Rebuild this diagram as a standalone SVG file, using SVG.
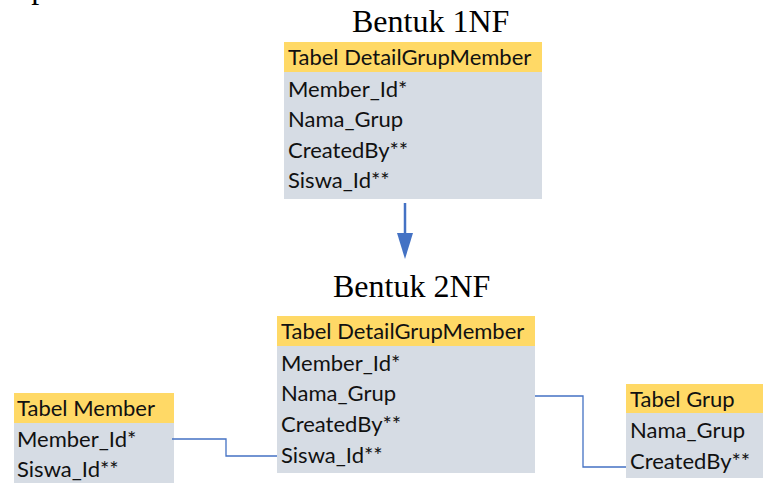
<svg xmlns="http://www.w3.org/2000/svg" width="763" height="483" viewBox="0 0 763 483">
  <style>
    .title { font-family: "Liberation Serif", "Times New Roman", serif; font-size: 32px; fill: #000; }
    .hd { fill: #FFD966; }
    .bd { fill: #D6DCE4; }
    .lbl { font-family: Lato, "Liberation Sans", sans-serif; font-size: 22px; fill: #111; }
    .link { fill: none; stroke: #4472C4; stroke-width: 1.3; }
    .arrow { stroke: #4472C4; stroke-width: 2.5; }
  </style>
  <rect width="763" height="483" fill="#fff"/>

  <!-- paragraph line above the figure, mostly above the top edge -->
  <text class="title" x="-7" y="-2">an pada Gambar 3.5.</text>

  <text class="title" x="352" y="32">Bentuk 1NF</text>
  <text class="title" x="333" y="297">Bentuk 2NF</text>

  <!-- 1NF table -->
  <g id="tbl-1nf">
    <rect class="bd" x="284" y="72" width="258" height="127"/>
    <rect class="hd" x="284" y="42" width="258" height="30"/>
    <text class="lbl" x="288" y="65">Tabel DetailGrupMember</text>
    <text class="lbl" x="288" y="97">Member_Id*</text>
    <text class="lbl" x="288" y="127">Nama_Grup</text>
    <text class="lbl" x="288" y="158">CreatedBy**</text>
    <text class="lbl" x="288" y="188">Siswa_Id**</text>
  </g>

  <!-- 2NF main table -->
  <g id="tbl-2nf">
    <rect class="bd" x="277" y="346" width="258" height="127"/>
    <rect class="hd" x="277" y="316" width="258" height="30"/>
    <text class="lbl" x="281" y="339">Tabel DetailGrupMember</text>
    <text class="lbl" x="281" y="371">Member_Id*</text>
    <text class="lbl" x="281" y="401">Nama_Grup</text>
    <text class="lbl" x="281" y="432">CreatedBy**</text>
    <text class="lbl" x="281" y="463">Siswa_Id**</text>
  </g>

  <!-- Member table -->
  <g id="tbl-member">
    <rect class="bd" x="14" y="423" width="160" height="60"/>
    <rect class="hd" x="14" y="393" width="160" height="30"/>
    <text class="lbl" x="17" y="416">Tabel Member</text>
    <text class="lbl" x="17" y="447">Member_Id*</text>
    <text class="lbl" x="17" y="477">Siswa_Id**</text>
  </g>

  <!-- Grup table -->
  <g id="tbl-grup">
    <rect class="bd" x="626" y="413" width="137" height="65"/>
    <rect class="hd" x="626" y="384" width="137" height="29"/>
    <text class="lbl" x="630" y="407">Tabel Grup</text>
    <text class="lbl" x="630" y="438">Nama_Grup</text>
    <text class="lbl" x="630" y="469">CreatedBy**</text>
  </g>

  <g id="connectors">
    <line class="arrow" x1="405" y1="203" x2="405" y2="236"/>
    <polygon points="397,233 413,233 405,259" fill="#4472C4"/>
    <polyline class="link" points="172,439 226,439 226,456 277,456"/>
    <polyline class="link" points="535,396 583,396 583,467 626,467"/>
  </g>
</svg>
